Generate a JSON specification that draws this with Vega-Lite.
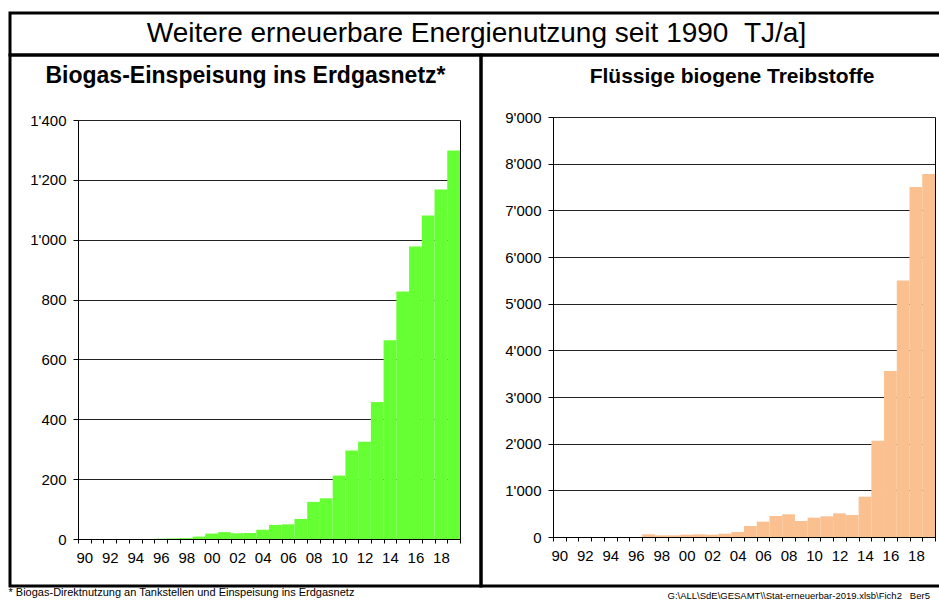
{
  "$schema": "https://vega.github.io/schema/vega-lite/v6.json",
  "padding": {"left": 8, "top": 11, "right": 0, "bottom": 0},
  "background": "white",
  "bounds": "flush",
  "spacing": 0,
  "config": {
    "font": "Liberation Sans",
    "view": {"stroke": "black", "strokeWidth": 3},
    "concat": {"spacing": 0},
    "title": {"color": "black", "font": "Liberation Sans"},
    "axis": {
      "labelColor": "black",
      "labelFont": "Liberation Sans",
      "domainColor": "black",
      "tickColor": "black",
      "title": null
    }
  },
  "datasets": {
    "biogas": [
      {"year": 1990, "value": 0}, {"year": 1991, "value": 0}, {"year": 1992, "value": 0},
      {"year": 1993, "value": 0}, {"year": 1994, "value": 0}, {"year": 1995, "value": 0},
      {"year": 1996, "value": 1}, {"year": 1997, "value": 2}, {"year": 1998, "value": 3},
      {"year": 1999, "value": 8}, {"year": 2000, "value": 18}, {"year": 2001, "value": 23},
      {"year": 2002, "value": 19}, {"year": 2003, "value": 20}, {"year": 2004, "value": 31},
      {"year": 2005, "value": 47}, {"year": 2006, "value": 49}, {"year": 2007, "value": 67},
      {"year": 2008, "value": 124}, {"year": 2009, "value": 136}, {"year": 2010, "value": 212},
      {"year": 2011, "value": 296}, {"year": 2012, "value": 325}, {"year": 2013, "value": 458},
      {"year": 2014, "value": 664}, {"year": 2015, "value": 827}, {"year": 2016, "value": 977},
      {"year": 2017, "value": 1081}, {"year": 2018, "value": 1168}, {"year": 2019, "value": 1298}
    ],
    "fluessig": [
      {"year": 1990, "value": 0}, {"year": 1991, "value": 0}, {"year": 1992, "value": 0},
      {"year": 1993, "value": 0}, {"year": 1994, "value": 0}, {"year": 1995, "value": 0},
      {"year": 1996, "value": 0}, {"year": 1997, "value": 57}, {"year": 1998, "value": 36},
      {"year": 1999, "value": 36}, {"year": 2000, "value": 50}, {"year": 2001, "value": 57},
      {"year": 2002, "value": 50}, {"year": 2003, "value": 71}, {"year": 2004, "value": 107},
      {"year": 2005, "value": 236}, {"year": 2006, "value": 329}, {"year": 2007, "value": 450},
      {"year": 2008, "value": 486}, {"year": 2009, "value": 343}, {"year": 2010, "value": 414},
      {"year": 2011, "value": 443}, {"year": 2012, "value": 507}, {"year": 2013, "value": 471},
      {"year": 2014, "value": 864}, {"year": 2015, "value": 2064}, {"year": 2016, "value": 3557},
      {"year": 2017, "value": 5497}, {"year": 2018, "value": 7501}, {"year": 2019, "value": 7780}
    ]
  },
  "title": {
    "text": "* Biogas-Direktnutzung an Tankstellen und Einspeisung ins Erdgasnetz",
    "orient": "bottom",
    "anchor": "start",
    "fontSize": 11,
    "fontWeight": "normal",
    "offset": 0,
    "dy": -13
  },
  "vconcat": [
    {
      "width": 933,
      "height": 42,
      "view": {"stroke": "black", "strokeWidth": 3, "fill": "white"},
      "data": {"values": [{"t": "Weitere erneuerbare Energienutzung seit 1990\u00a0\u00a0TJ/a]"}]},
      "mark": {"type": "text", "fontSize": 28, "align": "center", "baseline": "middle", "color": "black"},
      "encoding": {
        "text": {"field": "t", "type": "nominal"},
        "x": {"datum": 0.5, "type": "quantitative", "scale": {"domain": [0, 1]}, "axis": null},
        "y": {"datum": 0.5, "type": "quantitative", "scale": {"domain": [0, 1]}, "axis": null}
      }
    },
    {
      "bounds": "flush",
      "spacing": 0,
      "title": {
        "text": "G:\\ALL\\SdE\\GESAMT\\\\Stat-erneuerbar-2019.xlsb\\Fich2\u00a0\u00a0\u00a0Ber5",
        "orient": "bottom",
        "anchor": "start",
        "dx": 659,
        "fontSize": 9.5,
        "fontWeight": "normal",
        "offset": 3
      },
      "hconcat": [
        {
          "width": 471,
          "height": 531,
          "layer": [
            {
              "data": {"name": "biogas"},
              "mark": {"type": "bar", "color": "#66FF33"},
              "encoding": {
                "x": {
                  "field": "year", "type": "ordinal",
                  "scale": {"range": [68, 450], "paddingInner": 0, "paddingOuter": 0},
                  "axis": {
                    "orient": "bottom", "offset": -47, "tickBand": "extent", "tickSize": 4,
                    "labelAngle": 0, "labelFontSize": 15, "labelPadding": 7, "labelOverlap": false,
                    "labelExpr": "datum.value % 2 == 0 ? substring(datum.label, 2) : ''",
                    "grid": false
                  }
                },
                "y": {
                  "field": "value", "type": "quantitative",
                  "scale": {"domain": [0, 1400], "range": [484, 65], "nice": false},
                  "axis": {
                    "orient": "left", "offset": -68,
                    "values": [0, 200, 400, 600, 800, 1000, 1200, 1400],
                    "grid": true, "gridColor": "#222222", "gridWidth": 1,
                    "tickSize": 5, "labelFontSize": 15, "labelPadding": 7,
                    "labelExpr": "replace(format(datum.value, ','), ',', \"'\")"
                  }
                }
              }
            },
            {
              "data": {"name": "biogas"},
              "mark": {"type": "bar", "opacity": 0},
              "encoding": {
                "x": {"field": "year", "type": "ordinal"},
                "y": {
                  "field": "value", "type": "quantitative",
                  "axis": {"orient": "right", "offset": -21, "labels": false, "ticks": false, "grid": false, "zindex": 1}
                }
              }
            },
            {
              "data": {"values": [{"t": "Biogas-Einspeisung ins Erdgasnetz*", "top": 1400}]},
              "mark": {"type": "text", "fontSize": 23, "fontWeight": "bold", "align": "center", "baseline": "alphabetic", "dy": -37, "color": "black"},
              "encoding": {
                "text": {"field": "t", "type": "nominal"},
                "y": {"field": "top", "type": "quantitative", "axis": null}
              }
            }
          ],
          "resolve": {"axis": {"y": "independent"}}
        },
        {
          "width": 502,
          "height": 531,
          "layer": [
            {
              "data": {"name": "fluessig"},
              "mark": {"type": "bar", "color": "#FAC090"},
              "encoding": {
                "x": {
                  "field": "year", "type": "ordinal",
                  "scale": {"range": [72, 454], "paddingInner": 0, "paddingOuter": 0},
                  "axis": {
                    "orient": "bottom", "offset": -49, "tickBand": "extent", "tickSize": 4,
                    "labelAngle": 0, "labelFontSize": 15, "labelPadding": 7, "labelOverlap": false,
                    "labelExpr": "datum.value % 2 == 0 ? substring(datum.label, 2) : ''",
                    "grid": false
                  }
                },
                "y": {
                  "field": "value", "type": "quantitative",
                  "scale": {"domain": [0, 9000], "range": [482, 62], "nice": false},
                  "axis": {
                    "orient": "left", "offset": -72,
                    "values": [0, 1000, 2000, 3000, 4000, 5000, 6000, 7000, 8000, 9000],
                    "grid": true, "gridColor": "#222222", "gridWidth": 1,
                    "tickSize": 5, "labelFontSize": 15, "labelPadding": 7,
                    "labelExpr": "replace(format(datum.value, ','), ',', \"'\")"
                  }
                }
              }
            },
            {
              "data": {"name": "fluessig"},
              "mark": {"type": "bar", "opacity": 0},
              "encoding": {
                "x": {"field": "year", "type": "ordinal"},
                "y": {
                  "field": "value", "type": "quantitative",
                  "axis": {"orient": "right", "offset": -48, "labels": false, "ticks": false, "grid": false, "zindex": 1}
                }
              }
            },
            {
              "data": {"values": [{"t": "Flüssige biogene Treibstoffe", "top": 9000}]},
              "mark": {"type": "text", "fontSize": 21, "fontWeight": "bold", "align": "center", "baseline": "alphabetic", "dy": -34, "color": "black"},
              "encoding": {
                "text": {"field": "t", "type": "nominal"},
                "y": {"field": "top", "type": "quantitative", "axis": null}
              }
            }
          ],
          "resolve": {"axis": {"y": "independent"}}
        }
      ]
    }
  ]
}
